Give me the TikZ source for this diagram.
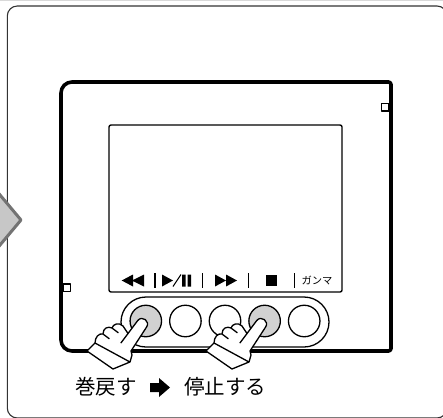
\documentclass[tikz,border=0pt]{standalone}
\usepackage{fontspec}
\setmainfont{Noto Sans CJK JP}
\begin{document}
\begin{tikzpicture}[x=1pt, y=-1pt, line join=round,
	frame/.style={draw=black!80, line width=1.1pt, rounded corners=10pt},
	chevron/.style={draw=black!55, fill=black!22, line width=3pt},
	device/.style={draw, line width=3.6pt},
	screen/.style={draw, line width=1.4pt, rounded corners=2pt},
	divider/.style={line width=1.1pt},
	button/.style={circle, draw, line width=1.3pt, minimum size=31.5pt, inner sep=0pt, fill=white},
	pressed/.style={button, fill=black!18},
	caption/.style={font=\fontsize{20.5}{24}\selectfont, inner sep=0pt},
	hand/.pic={
		\draw[fill=white, line width=1.3pt]
		(-4.4,-3.3) .. controls (0,-9.2) and (8.8,-2.6) .. (4.4,3.3)
		-- (-11,27) -- (-10,31) -- (-12,38) -- (-29,45) -- (-55,27) -- (-47,19)
		.. controls (-47,13) and (-43,9) .. (-39,10)
		.. controls (-39,4) and (-34,2) .. (-30,4)
		.. controls (-29,0) and (-23,-2) .. (-19,2)
		-- (-14,9.5) -- cycle;
		\draw[line width=1.3pt] (-14,9.5) -- (-21.2,19.1)
		(-39,10) -- (-32.6,14.8)
		(-30,4) -- (-23.6,8.8)
		(-47,19) -- (-12,38);
	}]
	\useasboundingbox (0,0) rectangle (443,417);
	\clip (0,0) rectangle (443,417);
	\fill[black!15] (0,0) rectangle (443,1.5);
	\draw[frame] (7.3,6) rectangle (447,418);
	\draw[chevron] (-10,183) -- (21,220) -- (-10,257) -- cycle;
	\draw[device] (226,82) [rounded corners=2.5pt] -- (391,82) -- (391,351) -- (226,351)
		[rounded corners=11pt] -- (61,351) -- (61,82) -- cycle;
	\draw[fill=white, line width=1.1pt] (381.5,103.5) rectangle (389,111);
	\draw[fill=white, line width=1.1pt] (63,284) rectangle (70.5,291.5);
	\draw[screen] (109,125) rectangle (342,292);
	\fill (121.7,280.5) -- (133,274.5) -- (133,286.5) -- cycle
		(132,280.5) -- (144,274.5) -- (144,286.5) -- cycle;
	\fill (162,274.5) -- (173,280.5) -- (162,286.5) -- cycle;
	\draw[line width=1pt] (173,286.5) -- (181,274.5);
	\fill (182,274.5) rectangle (185.5,286.5) (187.5,274.5) rectangle (191,286.5);
	\fill (215,274.5) -- (226,280.5) -- (215,286.5) -- cycle
		(226,274.5) -- (237,280.5) -- (226,286.5) -- cycle;
	\fill (265.7,274.5) rectangle (276.7,285.5);
	\draw[divider] (155,273) -- (155,288) (202.7,273) -- (202.7,288)
		(248.3,273) -- (248.3,288) (294.7,273) -- (294.7,288);
	\node[font=\fontsize{10.3}{12}\selectfont, inner sep=0pt] (gamma) at (317,280.5) {ガンマ};
	\draw[line width=1.3pt, rounded corners=25pt] (121,297) rectangle (329,347);
	\node[pressed] (b1) at (145.8,321) {};
	\node[button] (b2) at (185.4,321) {};
	\node[button] (b3) at (225,321) {};
	\node[pressed] (b4) at (264.6,321) {};
	\node[button] (b5) at (304.2,321) {};
	\pic at (142,324) {hand};
	\pic at (261,324) {hand};
	\node[caption] (rew) at (106,387) {巻戻す};
	\node[caption] (halt) at (225,387) {停止する};
	\fill (150,383) -- (159,383) -- (159,378) -- (170,387.5) -- (159,397) -- (159,392) -- (150,392) -- cycle;
\end{tikzpicture}
\end{document}
